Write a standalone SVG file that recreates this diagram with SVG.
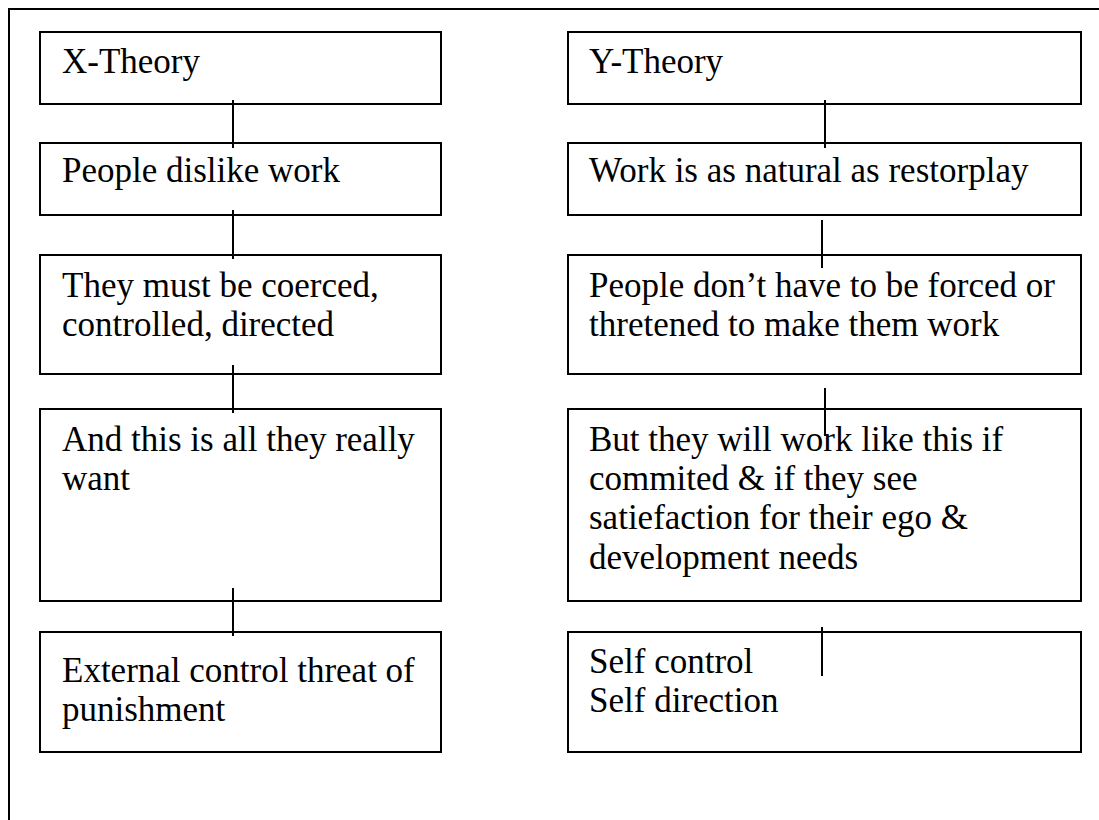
<svg xmlns="http://www.w3.org/2000/svg" width="1099" height="820" viewBox="0 0 1099 820">
  <style>
    .box { fill: #ffffff; stroke: #000000; stroke-width: 2; }
    .frame { fill: none; stroke: #000000; stroke-width: 2; }
    .link { stroke: #000000; stroke-width: 2; fill: none; }
    .label { font-family: "Liberation Serif", "Times New Roman", serif; font-size: 35px; fill: #000000; }
  </style>
  <rect width="1099" height="820" fill="#ffffff"/>

  <!-- page frame (top and left edges) -->
  <path class="frame" d="M9 820 V9 H1099"/>

  <!-- X-Theory column -->
  <g id="x-theory">
    <rect class="box" x="40" y="32" width="401" height="72"/>
    <text class="label" x="62" y="73">X-Theory</text>
  </g>
  <g id="x-dislike">
    <rect class="box" x="40" y="143" width="401" height="72"/>
    <text class="label" x="62" y="182">People dislike work</text>
  </g>
  <g id="x-coerced">
    <rect class="box" x="40" y="255" width="401" height="119"/>
    <text class="label" x="62" y="297">They must be coerced,</text>
    <text class="label" x="62" y="336">controlled, directed</text>
  </g>
  <g id="x-want">
    <rect class="box" x="40" y="409" width="401" height="192"/>
    <text class="label" x="62" y="451">And this is all they really</text>
    <text class="label" x="62" y="490">want</text>
  </g>
  <g id="x-external">
    <rect class="box" x="40" y="632" width="401" height="120"/>
    <text class="label" x="62" y="682">External control threat of</text>
    <text class="label" x="62" y="721">punishment</text>
  </g>

  <!-- Y-Theory column -->
  <g id="y-theory">
    <rect class="box" x="568" y="32" width="513" height="72"/>
    <text class="label" x="589" y="73">Y-Theory</text>
  </g>
  <g id="y-natural">
    <rect class="box" x="568" y="143" width="513" height="72"/>
    <text class="label" x="589" y="182">Work is as natural as restorplay</text>
  </g>
  <g id="y-forced">
    <rect class="box" x="568" y="255" width="513" height="119"/>
    <text class="label" x="589" y="297">People don’t have to be forced or</text>
    <text class="label" x="589" y="336">thretened to make them work</text>
  </g>
  <g id="y-committed">
    <rect class="box" x="568" y="409" width="513" height="192"/>
    <text class="label" x="589" y="451">But they will work like this if</text>
    <text class="label" x="589" y="490">commited &amp; if they see</text>
    <text class="label" x="589" y="529">satiefaction for their ego &amp;</text>
    <text class="label" x="589" y="569">development needs</text>
  </g>
  <g id="y-self">
    <rect class="box" x="568" y="632" width="513" height="120"/>
    <text class="label" x="589" y="673">Self control</text>
    <text class="label" x="589" y="712">Self direction</text>
  </g>

  <!-- connectors -->
  <g id="connectors">
    <line class="link" x1="233" y1="100" x2="233" y2="148"/>
    <line class="link" x1="233" y1="210" x2="233" y2="259"/>
    <line class="link" x1="233" y1="365" x2="233" y2="413"/>
    <line class="link" x1="233" y1="588" x2="233" y2="636"/>
    <line class="link" x1="825" y1="100" x2="825" y2="148"/>
    <line class="link" x1="822" y1="220" x2="822" y2="268"/>
    <line class="link" x1="825" y1="388" x2="825" y2="436"/>
    <line class="link" x1="822" y1="627" x2="822" y2="676"/>
  </g>
</svg>
